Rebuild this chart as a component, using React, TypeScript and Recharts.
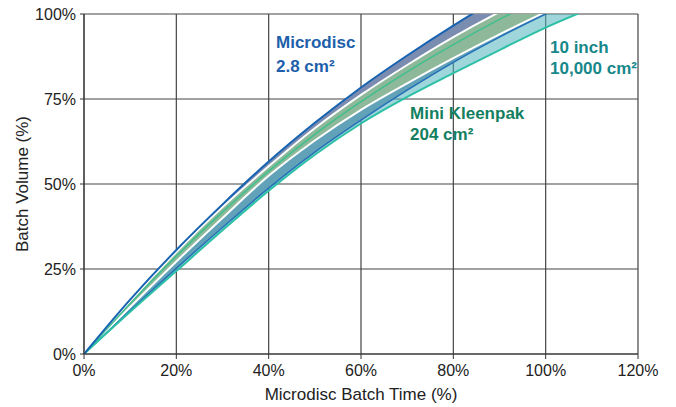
import React from 'react';
import { Area, CartesianGrid, ComposedChart, Customized, Line, XAxis, YAxis } from 'recharts';

// batch time (% of Microdisc time) at which each edge is sampled
const batchTime = [0, 10, 20, 30, 40, 50, 60, 70, 80, 90, 100, 110];

// Microdisc 2.8 cm² band
const microdiscUpper = [0, 16, 30.6, 44, 56.6, 68, 78.4, 87.8, 96.6, 104.8, 112.4, 119.5];
const microdiscLower = [0, 12.8, 25.2, 37.2, 48.8, 59.4, 68.8, 77.6, 85.8, 93.2, 100, 106.2];

// Mini Kleenpak 204 cm² band
const kleenpakUpper = [0, 15.6, 30, 43.2, 55.2, 66.4, 76.2, 85, 93.2, 100.6, 107.3, 113.4];
const kleenpakLower = [0, 13.8, 27.2, 40, 52.4, 62.8, 71.8, 79.6, 87, 94, 100.6, 106.8];

// 10 inch 10,000 cm² band
const tenInchUpper = [0, 14.8, 28.8, 41.8, 53.8, 64.6, 74.2, 83, 91, 98.4, 105.2, 111.4];
const tenInchLower = [0, 12.4, 24.4, 36.4, 48, 58.6, 67.8, 75.6, 82.6, 89.4, 96, 101.8];

const xTicks = [0, 20, 40, 60, 80, 100, 120];
const yTicks = [0, 25, 50, 75, 100];

const rows = batchTime.map((t, i) => ({
  t,
  microdisc: [microdiscLower[i], microdiscUpper[i]],
  kleenpak: [kleenpakLower[i], kleenpakUpper[i]],
  tenInch: [tenInchLower[i], tenInchUpper[i]],
  mdUp: microdiscUpper[i],
  mdLow: microdiscLower[i],
  tenUp: tenInchUpper[i],
  tenLow: tenInchLower[i],
}));

const FONT = '"Liberation Sans", Arial, sans-serif';
const pct = (v: number) => `${v}%`;

function Notes() {
  const bold = { fontFamily: FONT, fontSize: 17, fontWeight: 700 };
  return (
    <g>
      <text x={276} y={48} fill="#1d5fab" style={bold}>Microdisc</text>
      <text x={276} y={72} fill="#1d5fab" style={bold}>2.8 cm²</text>
      <text x={550} y={53} fill="#17888a" style={bold}>10 inch</text>
      <text x={550} y={74} fill="#17888a" style={bold}>10,000 cm²</text>
      <text x={410} y={119} fill="#137f60" style={bold}>Mini Kleenpak</text>
      <text x={410} y={140} fill="#137f60" style={bold}>204 cm²</text>
    </g>
  );
}

export default function App() {
  return (
    <div style={{ width: 676, height: 407, background: '#fff' }}>
      <style>{'body{margin:0}'}</style>
      <ComposedChart
        width={676}
        height={407}
        data={rows}
        margin={{ top: 14, right: 38, bottom: 7, left: 0 }}
        style={{ fontFamily: FONT }}
      >
        <CartesianGrid stroke="#444" strokeWidth={1.2} />
        <XAxis
          dataKey="t"
          type="number"
          domain={[0, 120]}
          ticks={xTicks}
          tickFormatter={pct}
          allowDataOverflow
          tick={{ fill: '#222', fontSize: 16 }}
          tickSize={5}
          tickMargin={6}
          stroke="#333"
          height={46}
          label={{ value: 'Microdisc Batch Time (%)', position: 'insideBottom', offset: 0, fill: '#222', fontSize: 17 }}
        />
        <YAxis
          type="number"
          domain={[0, 100]}
          ticks={yTicks}
          tickFormatter={pct}
          allowDataOverflow
          tick={{ fill: '#222', fontSize: 16 }}
          tickSize={4}
          tickMargin={4}
          stroke="#333"
          width={84}
          label={{
            value: 'Batch Volume (%)',
            angle: -90,
            position: 'insideLeft',
            offset: 22,
            fill: '#222',
            fontSize: 17,
            style: { textAnchor: 'middle' },
          }}
        />
        <Area
          dataKey="microdisc"
          type="monotone"
          fill="#7b8cb1"
          fillOpacity={1}
          stroke="none"
          isAnimationActive={false}
        />
        <Area
          dataKey="tenInch"
          type="monotone"
          fill="#4fb5c0"
          fillOpacity={0.55}
          stroke="none"
          isAnimationActive={false}
        />
        <Line dataKey="mdLow" type="monotone" stroke="#2670b8" strokeWidth={1.5} dot={false} activeDot={false} isAnimationActive={false} />
        <Area
          dataKey="kleenpak"
          type="monotone"
          fill="#8db899"
          fillOpacity={1}
          stroke="#fff"
          strokeWidth={2}
          isAnimationActive={false}
        />
        <Line dataKey="tenUp" type="monotone" stroke="#3fbf8e" strokeWidth={1.5} dot={false} activeDot={false} isAnimationActive={false} />
        <Line dataKey="tenLow" type="monotone" stroke="#2cc0a6" strokeWidth={2} dot={false} activeDot={false} isAnimationActive={false} />
        <Line dataKey="mdUp" type="monotone" stroke="#1763b2" strokeWidth={2} dot={false} activeDot={false} isAnimationActive={false} />
        <Customized component={Notes} />
      </ComposedChart>
    </div>
  );
}
